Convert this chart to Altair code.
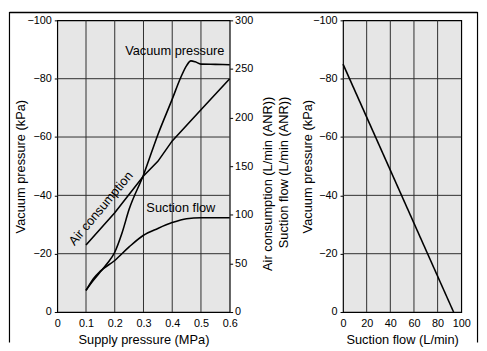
import altair as alt
import pandas as pd

# ---- data ----
supply_vac = [0.10, 0.125, 0.15, 0.175, 0.20, 0.225, 0.25, 0.30, 0.35, 0.40, 0.43, 0.45, 0.465, 0.48, 0.50, 0.55, 0.60]
vacuum_kpa = [-7.5, -10.8, -13.8, -16.8, -20.5, -27.0, -35.2, -47.0, -60.8, -73.0, -80.5, -84.5, -86.1, -85.8, -85.0, -84.9, -84.8]

supply_air = [0.10, 0.20, 0.30, 0.35, 0.40, 0.50, 0.60]
air_cons = [69, 102, 140, 155, 176, 208, 240]

supply_suc = [0.10, 0.125, 0.15, 0.20, 0.25, 0.30, 0.35, 0.40, 0.45, 0.50, 0.60]
suction = [22, 34, 42, 53, 67, 79, 86, 92, 96, 97, 97]

flow_lpm = [0, 93.5]
vac_flow = [-85, 0]

supply_ticks = [0, 0.1, 0.2, 0.3, 0.4, 0.5, 0.6]
vac_ticks = [0, -20, -40, -60, -80, -100]
flow_ticks = [0, 50, 100, 150, 200, 250, 300]
suction_ticks = [0, 20, 40, 60, 80, 100]

labels = ["Vacuum pressure", "Suction flow", "Air consumption"]
label_x = [0.409, 0.43, 0.152]
label_y = [-89.5, -35.6, -35.5]
label_angle = [0, 0, 310]

FONT = "Liberation Sans Narrow, Arial Narrow, Liberation Sans, Arial, sans-serif"
TFONT = "Liberation Sans, Arial, sans-serif"
GRID = "#2e2e2e"

df_vac = pd.DataFrame({"p": supply_vac, "v": vacuum_kpa})
df_air = pd.DataFrame({"p": supply_air, "f": air_cons})
df_suc = pd.DataFrame({"p": supply_suc, "f": suction})
df_lab = pd.DataFrame({"p": label_x, "v": label_y, "t": labels, "a": label_angle})
df_right = pd.DataFrame({"q": flow_lpm, "v": vac_flow})
df_gx_left = pd.DataFrame({"p": supply_ticks[1:-1]})
df_gy = pd.DataFrame({"v": vac_ticks[1:-1]})
df_gx_right = pd.DataFrame({"q": suction_ticks[1:-1]})

x_left = alt.X(
    "p:Q",
    scale=alt.Scale(domain=[0, 0.6], nice=False),
    axis=alt.Axis(
        values=supply_ticks,
        labelExpr="datum.value == 0 ? '0' : format(datum.value, '.1f')",
        title="Supply pressure (MPa)",
        grid=False, ticks=False, labelPadding=6, domain=False,
        labelOverlap=False, labelFlush=False,
        titleBaseline="alphabetic", titleY=32,
    ),
)
y_left = alt.Y(
    "v:Q",
    scale=alt.Scale(domain=[0, -100], nice=False),
    axis=alt.Axis(
        values=vac_ticks,
        title="Vacuum pressure (kPa)",
        grid=False, tickSize=3, labelPadding=3, domain=False, labelOverlap=False,
        titleX=-30, titleY=148,
    ),
)
y_flow = alt.Y(
    "f:Q",
    scale=alt.Scale(domain=[0, 300], nice=False),
    axis=alt.Axis(
        orient="right",
        values=flow_ticks,
        title=["Air consumption (L/min (ANR))", "Suction flow (L/min (ANR))"],
        grid=False, tickSize=3, labelPadding=2, domain=False, labelOverlap=False,
        titleAngle=270, titleAlign="right", titleBaseline="top",
        titleX=32.5, titleY=77, titleLineHeight=16,
    ),
)

grid_v = alt.Chart(df_gx_left).mark_rule(color=GRID, strokeWidth=1).encode(x=x_left)
grid_h = alt.Chart(df_gy).mark_rule(color=GRID, strokeWidth=1).encode(y=y_left)

vac_line = alt.Chart(df_vac).mark_line(color="black", strokeWidth=1.6, interpolate="monotone").encode(
    x=x_left, y=y_left,
)

lab = alt.Chart(df_lab).mark_text(color="black", fontSize=13, font=TFONT).encode(
    x=x_left, y=y_left,
    text="t:N",
    angle=alt.Angle("a:Q", scale=None),
)

one = pd.DataFrame({"k": [0]})
frame = alt.Chart(one).mark_rule(color="black", strokeWidth=1.2).encode(
    x=alt.value(-48.5), y=alt.value(-8.5), y2=alt.value(327)
)
frame2 = alt.Chart(one).mark_rule(color="black", strokeWidth=1.2).encode(
    x=alt.value(426.5), y=alt.value(-8.5), y2=alt.value(327)
)
frame3 = alt.Chart(one).mark_rule(color="black", strokeWidth=1.5).encode(
    x=alt.value(-48.5), x2=alt.value(426.5), y=alt.value(-8)
)

air_line = alt.Chart(df_air).mark_line(color="black", strokeWidth=1.6).encode(x=x_left, y=y_flow)
suc_line = alt.Chart(df_suc).mark_line(color="black", strokeWidth=1.6, interpolate="monotone").encode(x=x_left, y=y_flow)

left_main = alt.layer(grid_v, grid_h, vac_line, lab, frame, frame2, frame3)
left_flow = alt.layer(air_line, suc_line)
left = alt.layer(left_main, left_flow).resolve_scale(y="independent").properties(width=175, height=296)

x_right = alt.X(
    "q:Q",
    scale=alt.Scale(domain=[0, 100], nice=False),
    axis=alt.Axis(
        values=suction_ticks,
        title="Suction flow (L/min)",
        grid=False, ticks=False, labelPadding=6, domain=False,
        labelOverlap=False, labelFlush=False,
        titleBaseline="alphabetic", titleY=32,
    ),
)
y_right = alt.Y(
    "v:Q",
    scale=alt.Scale(domain=[0, -100], nice=False),
    axis=alt.Axis(
        values=vac_ticks,
        title="Vacuum pressure (kPa)",
        grid=False, tickSize=3, labelPadding=3, domain=False, labelOverlap=False,
        titleX=-29, titleY=148,
    ),
)

r_grid_v = alt.Chart(df_gx_right).mark_rule(color=GRID, strokeWidth=1).encode(x=x_right)
r_grid_h = alt.Chart(df_gy).mark_rule(color=GRID, strokeWidth=1).encode(y=y_right)
r_line = alt.Chart(df_right).mark_line(color="black", strokeWidth=1.6).encode(x=x_right, y=y_right)

right = alt.layer(r_grid_v, r_grid_h, r_line).properties(width=120, height=296)

chart = alt.hconcat(left, right, spacing=115, bounds="flush").properties(
    padding={"left": 0, "top": 0, "right": 0, "bottom": 0},
    background="white",
).configure_view(
    fill="#e6e6e6", stroke="black", strokeWidth=1.2
).configure_axis(
    labelFont=FONT, labelFontSize=11, labelColor="black",
    titleFont=TFONT, titleFontSize=13, titleFontWeight="normal", titleColor="black",
    tickColor="black",
)

chart.save("out.html", embed_options={"renderer": "svg", "actions": False})
